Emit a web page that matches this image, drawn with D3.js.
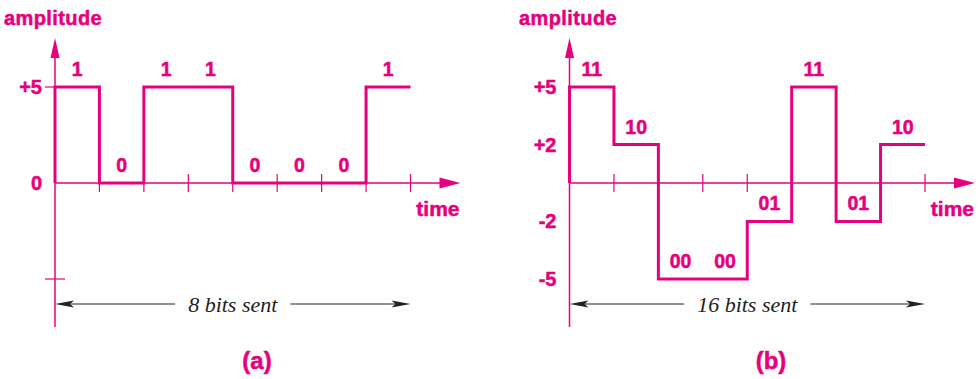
<!DOCTYPE html>
<html><head><meta charset="utf-8">
<script src="https://cdn.jsdelivr.net/npm/d3@7"></script>
<style>body{margin:0;background:#fff}</style>
</head><body>
<script>
// ---- data ----
const bitsA = ["1","0","1","1","0","0","0","1"];
const levelsA = [5,0,5,5,0,0,0,5];
const symbolsB = ["11","10","00","00","01","11","01","10"];
const levelsB = [5,2,-5,-5,-2,5,-2,2];
const tickValuesA = [5,0];
const tickLabelsA = ["+5","0"];
const tickValuesB = [5,2,-2,-5];
const tickLabelsB = ["+5","+2","-2","-5"];
const captionA = "8 bits sent";
const captionB = "16 bits sent";

const MAG = "#e6007e";
const W = 979, H = 379;
const FONT = "Liberation Sans, Arial, Helvetica, sans-serif";
const svg = d3.select("body").append("svg").attr("width", W).attr("height", H);

function magText(sel){
  return sel.attr("font-family", FONT).attr("font-weight", "bold").attr("fill", MAG)
    .attr("stroke", MAG).attr("stroke-width", 0.5).attr("stroke-linejoin", "round");
}

function panel(cfg){
  const g = svg.append("g");
  const x = d3.scaleLinear().domain([0, 8]).range([cfg.x0, cfg.x0 + 355.5]);
  const y = d3.scaleLinear().domain([-5, 5]).range([279, 87]);
  const x0 = x(0), y0 = y(0);

  // y axis
  g.append("line").attr("x1", x0).attr("x2", x0).attr("y1", 327).attr("y2", 52)
    .attr("stroke", MAG).attr("stroke-width", 1.5);
  g.append("path").attr("d", `M${x0},38 L${x0-4.5},58 L${x0+4.5},58 Z`).attr("fill", MAG);
  // x axis
  const xEnd = x(8) + 50;
  g.append("line").attr("x1", x0).attr("x2", xEnd - 18).attr("y1", y0).attr("y2", y0)
    .attr("stroke", MAG).attr("stroke-width", 1.5);
  g.append("path").attr("d", `M${xEnd},${y0} L${xEnd-21},${y0-5.5} L${xEnd-21},${y0+5.5} Z`).attr("fill", MAG);
  // bit ticks
  g.selectAll(".bt").data(d3.range(1, 9)).join("line")
    .attr("x1", d => x(d)).attr("x2", d => x(d)).attr("y1", y0 - 9).attr("y2", y0 + 9)
    .attr("stroke", MAG).attr("stroke-width", 1.2);
  // extra y ticks
  (cfg.yTicks || []).forEach(t => {
    g.append("line").attr("x1", x0 - 10).attr("x2", x0 + t.r).attr("y1", y(t.v)).attr("y2", y(t.v))
      .attr("stroke", MAG).attr("stroke-width", 1.2);
  });
  // y tick labels
  magText(g.selectAll(".yl").data(cfg.tickValues).join("text"))
    .attr("x", x0 - 13).attr("y", d => y(d) + 7).attr("text-anchor", "end")
    .attr("font-size", 20)
    .text((d, i) => cfg.tickLabels[i]);
  // axis titles
  magText(g.append("text")).attr("x", cfg.ampX).attr("y", 25)
    .attr("font-size", 20).attr("letter-spacing", 0.4).text("amplitude");
  magText(g.append("text")).attr("x", xEnd - 1).attr("y", 216).attr("text-anchor", "end")
    .attr("font-size", 21).text("time");

  // signal
  const pts = [[0, 0]].concat(cfg.levels.map((v, i) => [i, v])).concat([[8, cfg.levels[7]]]);
  const line = d3.line().x(d => x(d[0])).y(d => y(d[1])).curve(d3.curveStepAfter);
  g.append("path").attr("d", line(pts)).attr("fill", "none")
    .attr("stroke", MAG).attr("stroke-width", 3).attr("stroke-linejoin", "miter");
  // bit labels
  magText(g.selectAll(".bl").data(cfg.labels).join("text"))
    .attr("x", (d, i) => x(i + 0.5)).attr("y", (d, i) => y(cfg.levels[i]) - 11)
    .attr("text-anchor", "middle")
    .attr("font-size", 19.5).text(d => d);

  // dimension arrow
  const ay = 304, xa = x(0), xb = x(8);
  const cx = (xa + xb) / 2;
  const cap = g.append("text").attr("x", cx).attr("y", ay + 8).attr("text-anchor", "middle")
    .attr("font-family", "Liberation Serif, Times New Roman, serif").attr("font-style", "italic")
    .attr("font-size", 22).attr("fill", "#222").text(cfg.caption);
  const bw = cap.node().getComputedTextLength();
  g.append("line").attr("x1", xa + 5).attr("x2", cx - bw / 2 - 13).attr("y1", ay).attr("y2", ay)
    .attr("stroke", "#222").attr("stroke-width", 1);
  g.append("line").attr("x1", cx + bw / 2 + 13).attr("x2", xb - 5).attr("y1", ay).attr("y2", ay)
    .attr("stroke", "#222").attr("stroke-width", 1);
  g.append("path").attr("d", `M${xa},${ay} L${xa+19},${ay-3.5} L${xa+15},${ay} L${xa+19},${ay+3.5} Z`).attr("fill", "#222");
  g.append("path").attr("d", `M${xb},${ay} L${xb-19},${ay-3.5} L${xb-15},${ay} L${xb-19},${ay+3.5} Z`).attr("fill", "#222");

  // panel letter
  magText(g.append("text")).attr("x", cfg.letterX).attr("y", 369).attr("text-anchor", "middle")
    .attr("font-size", 24).text(cfg.letter);
}

panel({x0: 55, levels: levelsA, labels: bitsA, tickValues: tickValuesA, tickLabels: tickLabelsA,
  yTicks: [{v: 5, r: 0}, {v: -5, r: 10}], caption: captionA, letter: "(a)", letterX: 257, ampX: 4});
panel({x0: 569.5, levels: levelsB, labels: symbolsB, tickValues: tickValuesB, tickLabels: tickLabelsB,
  yTicks: [], caption: captionB, letter: "(b)", letterX: 771, ampX: 519});
</script>
</body></html>
